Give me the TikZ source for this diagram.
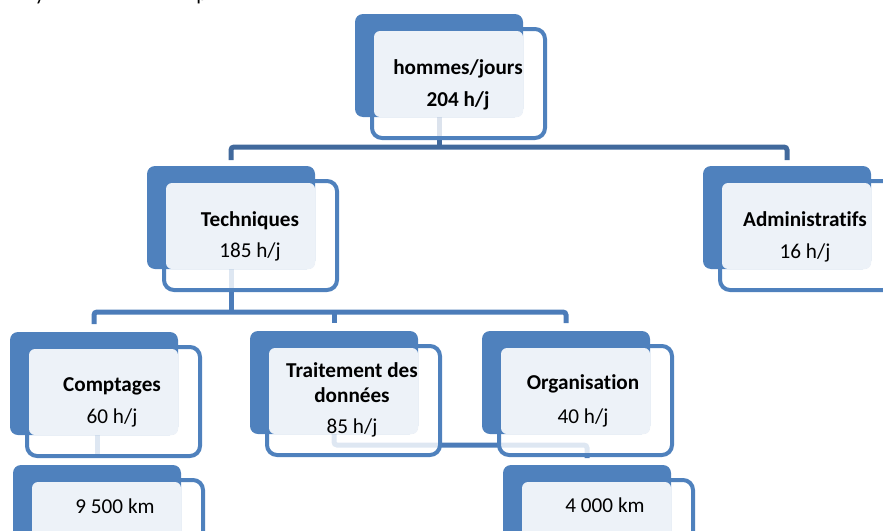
\documentclass[tikz,border=0pt]{standalone}
\usepackage{fontspec}
\setmainfont{Carlito}[Ligatures=NoCommon]
\usetikzlibrary{calc}
\definecolor{acc}{RGB}{79,129,189}
\definecolor{lightfill}{RGB}{237,242,248}
\definecolor{connA}{RGB}{65,105,156}
\definecolor{connB}{RGB}{76,124,185}
\pgfdeclarelayer{bg}
\pgfsetlayers{bg,main}
\tikzset{
  darkbox/.style={draw=none, fill=acc, rounded corners=8pt, minimum width=168pt,
    minimum height=103pt, inner sep=0pt, outer sep=0pt, anchor=north west},
  whitebox/.style={draw=acc, line width=4pt, fill=white, fill opacity=0.82,
    rounded corners=10pt, minimum width=173pt, minimum height=109pt,
    inner sep=0pt, outer sep=2pt, anchor=north west},
  lightbox/.style={fill=lightfill, rounded corners=6pt},
  ttl/.style={font=\bfseries\fontsize{21.2}{25}\selectfont, anchor=base, inner sep=0pt},
  val/.style={font=\fontsize{21.2}{25}\selectfont, anchor=base, inner sep=0pt},
  connA/.style={draw=connA, line width=5pt},
  connB/.style={draw=connB, line width=5pt},
}
\newcommand\orgunit[3]{%
  \node[whitebox] (#1-w) at (#2+15,#3+13) {};
  \node[darkbox] (#1-d) at (#2,#3) {};
  \fill[lightbox] ($(#1-w.north west)+(4,4)$) rectangle (#1-d.south east);
}
\begin{document}
\begin{tikzpicture}[x=1pt,y=-1pt]
\useasboundingbox (0,0) rectangle (883,530);
\clip (0,0) rectangle (883,530);

\orgunit{hom}{355}{14}
\orgunit{tech}{147}{166}
\orgunit{adm}{703}{166}
\orgunit{com}{10}{332}
\orgunit{tra}{250}{331}
\orgunit{org}{482}{331}
\orgunit{kmA}{13}{465}
\orgunit{kmB}{503}{465}

\coordinate (busA) at (0,147);
\coordinate (busB) at (0,312);
\coordinate (busC) at (0,445);

\begin{pgfonlayer}{bg}
  \draw[connA] (hom-d.south) -- (hom-d.south |- busA);
  \draw[connA, rounded corners=3pt] ([yshift=6pt]tech-d.north) -- (tech-d.north |- busA)
     -- (adm-d.north |- busA) -- ([yshift=6pt]adm-d.north);
  \draw[connB] (tech-d.south) -- (tech-d.south |- busB);
  \draw[connB, rounded corners=3pt] ([yshift=8pt]com-d.north) -- (com-d.north |- busB)
     -- (org-d.north |- busB) -- ([yshift=8pt]org-d.north);
  \draw[connB] (tra-d.north |- busB) -- ([yshift=8pt]tra-d.north);
  \draw[connB, rounded corners=3pt] (tra-d.south) -- (tra-d.south |- busC)
     -- (kmB-d.north |- busC) -- ([yshift=7pt]kmB-d.north);
  \draw[connB] (kmA-d.north |- com-d.south) -- ([yshift=7pt]kmA-d.north);
\end{pgfonlayer}

% texts
\node[ttl] (homT1) at (458,74) {hommes/jours};
\node[ttl] (homT2) at (458,106) {204 h/j};
\node[ttl] (techT1) at (250,226) {Techniques};
\node[val] (techT2) at (250,257) {185 h/j};
\node[ttl] (admT1) at (805,226) {Administratifs};
\node[val] (admT2) at (805,258) {16 h/j};
\node[ttl] (comT1) at (112,391) {Comptages};
\node[val] (comT2) at (112,423) {60 h/j};
\node[ttl] (traT1) at (352,377) {Traitement des};
\node[ttl] (traT2) at (352,402) {données};
\node[val] (traT3) at (352,433) {85 h/j};
\node[ttl] (orgT1) at (583,389) {Organisation};
\node[val] (orgT2) at (583,423) {40 h/j};
\node[val] (kmAT) at (115,513) {9 500 km};
\node[val] (kmBT) at (605,512) {4 000 km};

% cut-off descenders of a line of text above the picture
\node[val] (fragY) at (40,0.5) {y};
\node[val] (fragP) at (202,0.5) {p};
\end{tikzpicture}
\end{document}
